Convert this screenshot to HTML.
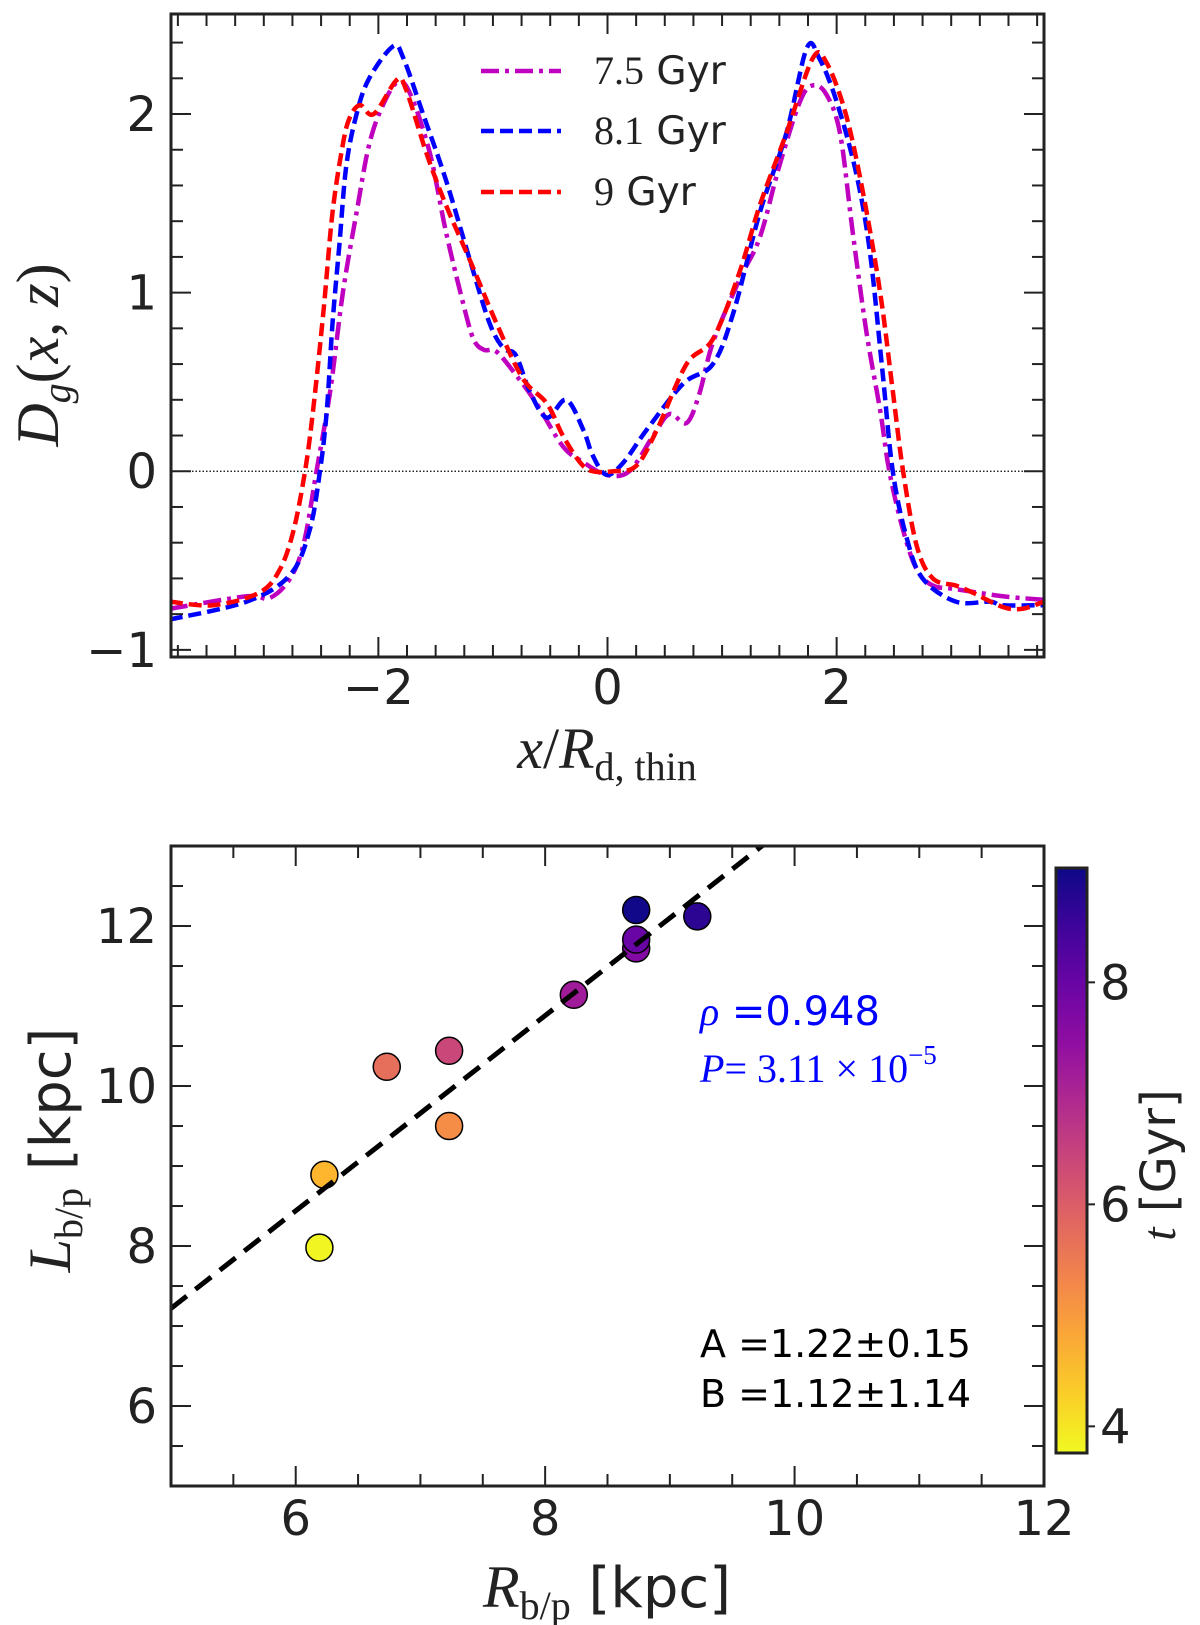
<!DOCTYPE html>
<html><head><meta charset="utf-8"><style>
body{margin:0;background:#fff}
svg{display:block}
text{fill:#222}
</style></head><body>
<svg id="fig" width="1200" height="1625" viewBox="0 0 1200 1625" xmlns="http://www.w3.org/2000/svg">
<g id="topPanel"></g>
<g id="botPanel"></g>
</svg>
<script>
// ---------- Top panel data ----------
const x75 = [-3.82,-3.15,-2.95,-2.77,-2.65,-2.54,-2.42,-2.31,-2.19,-2.08,-1.96,-1.83,-1.72,-1.55,-1.41,-1.26,-1.17,-1.08,-0.97,-0.8,-0.62,-0.39,-0.21,-0.01,0.19,0.4,0.54,0.69,0.8,0.92,1.15,1.33,1.5,1.68,1.79,1.91,2.03,2.14,2.26,2.38,2.46,2.58,2.7,2.84,3.04,3.45,3.81];
const y75 = [-0.77,-0.70,-0.71,-0.60,-0.40,0.0,0.45,1.0,1.45,1.83,2.05,2.18,2.11,1.78,1.34,0.94,0.74,0.68,0.67,0.54,0.38,0.14,0.05,-0.02,0.0,0.20,0.32,0.27,0.43,0.72,1.07,1.31,1.71,2.07,2.16,2.11,1.89,1.34,0.78,0.34,0.0,-0.33,-0.55,-0.64,-0.66,-0.70,-0.72];
const x81 = [-3.82,-3.15,-2.77,-2.6,-2.51,-2.45,-2.4,-2.34,-2.28,-2.19,-2.08,-1.87,-1.78,-1.61,-1.41,-1.2,-1.03,-0.91,-0.8,-0.68,-0.53,-0.36,-0.21,-0.13,-0.01,0.14,0.34,0.66,0.92,1.1,1.33,1.56,1.74,1.85,2.0,2.17,2.29,2.4,2.49,2.61,2.75,3.04,3.34,3.45,3.81];
const y81 = [-0.83,-0.73,-0.58,-0.33,0.0,0.34,0.83,1.27,1.71,2.0,2.2,2.38,2.31,2.0,1.63,1.18,0.83,0.69,0.65,0.45,0.30,0.40,0.23,0.09,-0.02,0.05,0.23,0.49,0.60,0.89,1.45,1.89,2.37,2.31,2.07,1.67,1.23,0.56,0.0,-0.37,-0.60,-0.73,-0.73,-0.75,-0.75];
const x90 = [-3.82,-3.44,-3.04,-2.86,-2.74,-2.64,-2.57,-2.48,-2.4,-2.31,-2.25,-2.16,-2.04,-1.84,-1.76,-1.58,-1.41,-1.2,-0.97,-0.74,-0.53,-0.39,-0.24,-0.13,0.05,0.25,0.43,0.69,0.92,1.15,1.33,1.56,1.79,1.91,2.08,2.23,2.38,2.49,2.58,2.7,2.84,3.04,3.19,3.45,3.62,3.81];
const y90 = [-0.73,-0.75,-0.68,-0.55,-0.33,0.0,0.34,0.89,1.45,1.83,1.98,2.05,2.0,2.19,2.14,1.78,1.49,1.18,0.83,0.52,0.38,0.20,0.05,0.0,0.0,0.03,0.23,0.60,0.74,1.11,1.49,1.89,2.31,2.29,2.0,1.56,1.0,0.45,0.0,-0.42,-0.60,-0.64,-0.68,-0.76,-0.77,-0.73];
const topXTicks = [-2,0,2];
const topYTicks = [-1,0,1,2];
const legendLabels = ["7.5","8.1","9"];

// ---------- Bottom panel data ----------
const rbp = [6.19,6.23,6.73,7.23,7.23,8.23,8.73,8.73,8.73,9.22];
const lbp = [7.98,8.89,10.24,10.44,9.50,11.14,11.72,11.83,12.20,12.12];
const tAge = [3.8,4.6,5.7,6.4,5.2,7.2,7.6,8.0,9.0,8.7];
const fitA = 1.22, fitB = 1.12;
const botXTicks = [6,8,10,12];
const botYTicks = [6,8,10,12];
const cbTicks = [4,6,8];

const NS='http://www.w3.org/2000/svg';
function mk(tag, attrs, parent){const e=document.createElementNS(NS,tag);for(const k in attrs)e.setAttribute(k,attrs[k]);parent.appendChild(e);return e;}
const fnt='"DejaVu Sans", "Liberation Sans", sans-serif';
const serif='"Liberation Serif", "DejaVu Serif", serif';
const TFS=48;

function smoothPath(xs,ys,fx,fy){
  const p=xs.map((x,i)=>[fx(x),fy(ys[i])]);
  let d=`M${p[0][0]},${p[0][1]}`;
  for(let i=0;i<p.length-1;i++){
    const p0=p[i-1]||p[i],p1=p[i],p2=p[i+1],p3=p[i+2]||p2;
    const c1=[p1[0]+(p2[0]-p0[0])/6,p1[1]+(p2[1]-p0[1])/6];
    const c2=[p2[0]-(p3[0]-p1[0])/6,p2[1]-(p3[1]-p1[1])/6];
    d+=` C${c1[0]},${c1[1]} ${c2[0]},${c2[1]} ${p2[0]},${p2[1]}`;
  }
  return d;
}
function ticks(g,L,fx,fy,xmin,xmax,xstep,xmaj,ymin,ymax,ystep,ymaj){
  const nx=Math.round((xmax-xmin)/xstep)+2;
  for(let k=0;k<nx;k++){
    const v=Math.ceil(xmin/xstep-1e-9)*xstep+k*xstep; if(v>xmax+1e-9)break;
    const maj=Math.abs(v/xmaj-Math.round(v/xmaj))<1e-6;const len=maj?20:12;const X=fx(v);
    mk('line',{x1:X,x2:X,y1:L.b,y2:L.b-len,stroke:'#222','stroke-width':2},g);
    mk('line',{x1:X,x2:X,y1:L.t,y2:L.t+len,stroke:'#222','stroke-width':2},g);
  }
  const ny=Math.round((ymax-ymin)/ystep)+2;
  for(let k=0;k<ny;k++){
    const v=Math.ceil(ymin/ystep-1e-9)*ystep+k*ystep; if(v>ymax+1e-9)break;
    const maj=Math.abs(v/ymaj-Math.round(v/ymaj))<1e-6;const len=maj?20:12;const Y=fy(v);
    mk('line',{x1:L.l,x2:L.l+len,y1:Y,y2:Y,stroke:'#222','stroke-width':2},g);
    mk('line',{x1:L.r,x2:L.r-len,y1:Y,y2:Y,stroke:'#222','stroke-width':2},g);
  }
}

// ---- top axes ----
const T={l:171,r:1044,t:14,b:657,x0:-3.81,x1:3.81,y0:-1.04,y1:2.56};
const tx=v=>T.l+(v-T.x0)/(T.x1-T.x0)*(T.r-T.l);
const ty=v=>T.b-(v-T.y0)/(T.y1-T.y0)*(T.b-T.t);
const topG=document.getElementById('topPanel');

const cp=mk('clipPath',{id:'cpTop'},topG);mk('rect',{x:T.l,y:T.t,width:T.r-T.l,height:T.b-T.t},cp);

const zl=mk('line',{x1:T.l,x2:T.r,y1:ty(0),y2:ty(0),stroke:'#000','stroke-width':1.2,'stroke-dasharray':'1.5,2'},topG);



const series=[[x75,y75,'#bf00bf','18,6,4,6','curve-7-5-gyr'],[x81,y81,'#0000ff','13,6','curve-8-1-gyr'],[x90,y90,'#ff0000','13,6','curve-9-gyr']];
series.forEach(s=>{
  const p=mk('path',{d:smoothPath(s[0],s[1],tx,ty),fill:'none',stroke:s[2],'stroke-width':4.5,'stroke-dasharray':s[3],'clip-path':'url(#cpTop)'},topG);
  
  
});

ticks(topG,T,tx,ty,T.x0,T.x1,0.25,2,T.y0,T.y1,0.2,1);
const fr=mk('rect',{x:T.l,y:T.t,width:T.r-T.l,height:T.b-T.t,fill:'none',stroke:'#222','stroke-width':3},topG);



topXTicks.forEach(v=>{
  const t=mk('text',{x:tx(v),y:704,'font-size':TFS,'font-family':fnt,'text-anchor':'middle'},topG);
  t.textContent=v<0?'\u2212'+Math.abs(v):String(v);
  
  
});
topYTicks.forEach(v=>{
  const t=mk('text',{x:157,y:ty(v)+17,'font-size':TFS,'font-family':fnt,'text-anchor':'end'},topG);
  t.textContent=v<0?'\u2212'+Math.abs(v):String(v);
  
  
});
const legY=[71,131,192];
series.forEach((s,i)=>{
  const l=mk('line',{x1:481,x2:561,y1:legY[i],y2:legY[i],stroke:s[2],'stroke-width':4.5,'stroke-dasharray':s[3]},topG);
  
  
  const t=mk('text',{x:594,y:legY[i]+13,'font-size':39,'font-family':fnt},topG);
  const ts=mk('tspan',{'font-family':serif,'font-size':40},t);
  ts.textContent=legendLabels[i];
  t.appendChild(document.createTextNode(' Gyr'));
  
  
});

const g1=document.createElementNS(NS,'g');topG.appendChild(g1);
g1.innerHTML=`<text x="607" y="768" font-size="58" font-family="Liberation Serif, serif" text-anchor="middle"><tspan font-style="italic">x</tspan>/<tspan font-style="italic">R</tspan><tspan font-size="40" dy="12">d, thin</tspan></text>
<text transform="translate(58,355) rotate(-90)" font-size="60" font-family="Liberation Serif, serif" text-anchor="middle"><tspan font-style="italic">D</tspan><tspan font-style="italic" font-size="40" dy="12">g</tspan><tspan dy="-12">(</tspan><tspan font-style="italic">x</tspan>, <tspan font-style="italic">z</tspan>)</text>`;

// ---------- Bottom panel ----------
const B={l:171,r:1044,t:846,b:1486,x0:5,x1:12,y0:5,y1:13};
const bx=v=>B.l+(v-B.x0)/(B.x1-B.x0)*(B.r-B.l);
const by=v=>B.b-(v-B.y0)/(B.y1-B.y0)*(B.b-B.t);
const botG=document.getElementById('botPanel');
const CB={l:1056,r:1087,t:868,b:1453,v0:3.76,v1:9.03};
const cby=v=>CB.b-(v-CB.v0)/(CB.v1-CB.v0)*(CB.b-CB.t);
const plasma=[[13,8,135],[84,2,163],[139,10,165],[185,50,137],[219,92,104],[244,136,73],[254,188,43],[240,249,33]];
function cmap(f){f=Math.max(0,Math.min(1,f));const s=f*(plasma.length-1);const i=Math.min(plasma.length-2,Math.floor(s));const u=s-i;const a=plasma[i],c=plasma[i+1];return `rgb(${[0,1,2].map(k=>Math.round(a[k]+(c[k]-a[k])*u)).join(',')})`;}
const colorOf=t=>cmap(1-(t-CB.v0)/(CB.v1-CB.v0));

const cpb=mk('clipPath',{id:'cpBot'},botG);mk('rect',{x:B.l,y:B.t,width:B.r-B.l,height:B.b-B.t},cpb);
rbp.forEach((r,i)=>{
  const c=mk('circle',{cx:bx(r),cy:by(lbp[i]),r:13.5,fill:colorOf(tAge[i]),stroke:'#000','stroke-width':1.5},botG);
  
  
});
const fl=mk('line',{x1:bx(5),y1:by(fitA*5+fitB),x2:bx(12),y2:by(fitA*12+fitB),stroke:'#000','stroke-width':5,'stroke-dasharray':'20,11','clip-path':'url(#cpBot)'},botG);


ticks(botG,B,bx,by,B.x0,B.x1,0.5,2,B.y0,B.y1,0.5,2);
const fr2=mk('rect',{x:B.l,y:B.t,width:B.r-B.l,height:B.b-B.t,fill:'none',stroke:'#222','stroke-width':3},botG);


botXTicks.forEach(v=>{
  const t=mk('text',{x:bx(v),y:1535,'font-size':TFS,'font-family':fnt,'text-anchor':'middle'},botG);
  t.textContent=String(v);
  
  
});
botYTicks.forEach(v=>{
  const t=mk('text',{x:157,y:by(v)+17,'font-size':TFS,'font-family':fnt,'text-anchor':'end'},botG);
  t.textContent=String(v);
  
  
});
const defs=mk('defs',{},botG);
const lg=mk('linearGradient',{id:'cbg',x1:0,y1:1,x2:0,y2:0},defs);
for(let k=0;k<=10;k++){mk('stop',{offset:k/10,'stop-color':cmap(1-k/10)},lg);}
const cbr=mk('rect',{x:CB.l,y:CB.t,width:CB.r-CB.l,height:CB.b-CB.t,fill:'url(#cbg)',stroke:'#222','stroke-width':3},botG);


cbTicks.forEach(v=>{
  mk('line',{x1:CB.r,x2:CB.r+8,y1:cby(v),y2:cby(v),stroke:'#222','stroke-width':2},botG);
  const t=mk('text',{x:1100,y:cby(v)+17,'font-size':TFS,'font-family':fnt},botG);
  t.textContent=String(v);
  
  
});
const g2=document.createElementNS(NS,'g');botG.appendChild(g2);
g2.innerHTML=`<text x="607" y="1607" font-size="56" font-family="DejaVu Sans, sans-serif" text-anchor="middle"><tspan font-family="Liberation Serif, serif" font-style="italic" font-size="60">R</tspan><tspan font-family="Liberation Serif, serif" font-size="40" dy="12">b/p</tspan><tspan dy="-12"> [kpc]</tspan></text>
<text transform="translate(70,1150) rotate(-90)" font-size="56" font-family="DejaVu Sans, sans-serif" text-anchor="middle"><tspan font-family="Liberation Serif, serif" font-style="italic" font-size="60">L</tspan><tspan font-family="Liberation Serif, serif" font-size="40" dy="12">b/p</tspan><tspan dy="-12"> [kpc]</tspan></text>
<text transform="translate(1175,1165) rotate(-90)" font-size="48" font-family="DejaVu Sans, sans-serif" text-anchor="middle"><tspan font-family="Liberation Serif, serif" font-style="italic">t</tspan> [Gyr]</text>
<text x="700" y="1025" font-size="40" font-family="DejaVu Sans, sans-serif" style="fill:#0000ff"><tspan font-family="Liberation Serif, serif" font-style="italic">ρ</tspan> =0.948</text>
<text x="700" y="1082" font-size="40" font-family="Liberation Serif, serif" style="fill:#0000ff"><tspan font-style="italic">P</tspan>= 3.11 × 10<tspan font-size="27" dy="-18">−5</tspan></text>
<text x="700" y="1357" font-size="38" font-family="DejaVu Sans, sans-serif" style="fill:#000">A =1.22±0.15</text>
<text x="700" y="1407" font-size="38" font-family="DejaVu Sans, sans-serif" style="fill:#000">B =1.12±1.14</text>`;
</script>
</body></html>
